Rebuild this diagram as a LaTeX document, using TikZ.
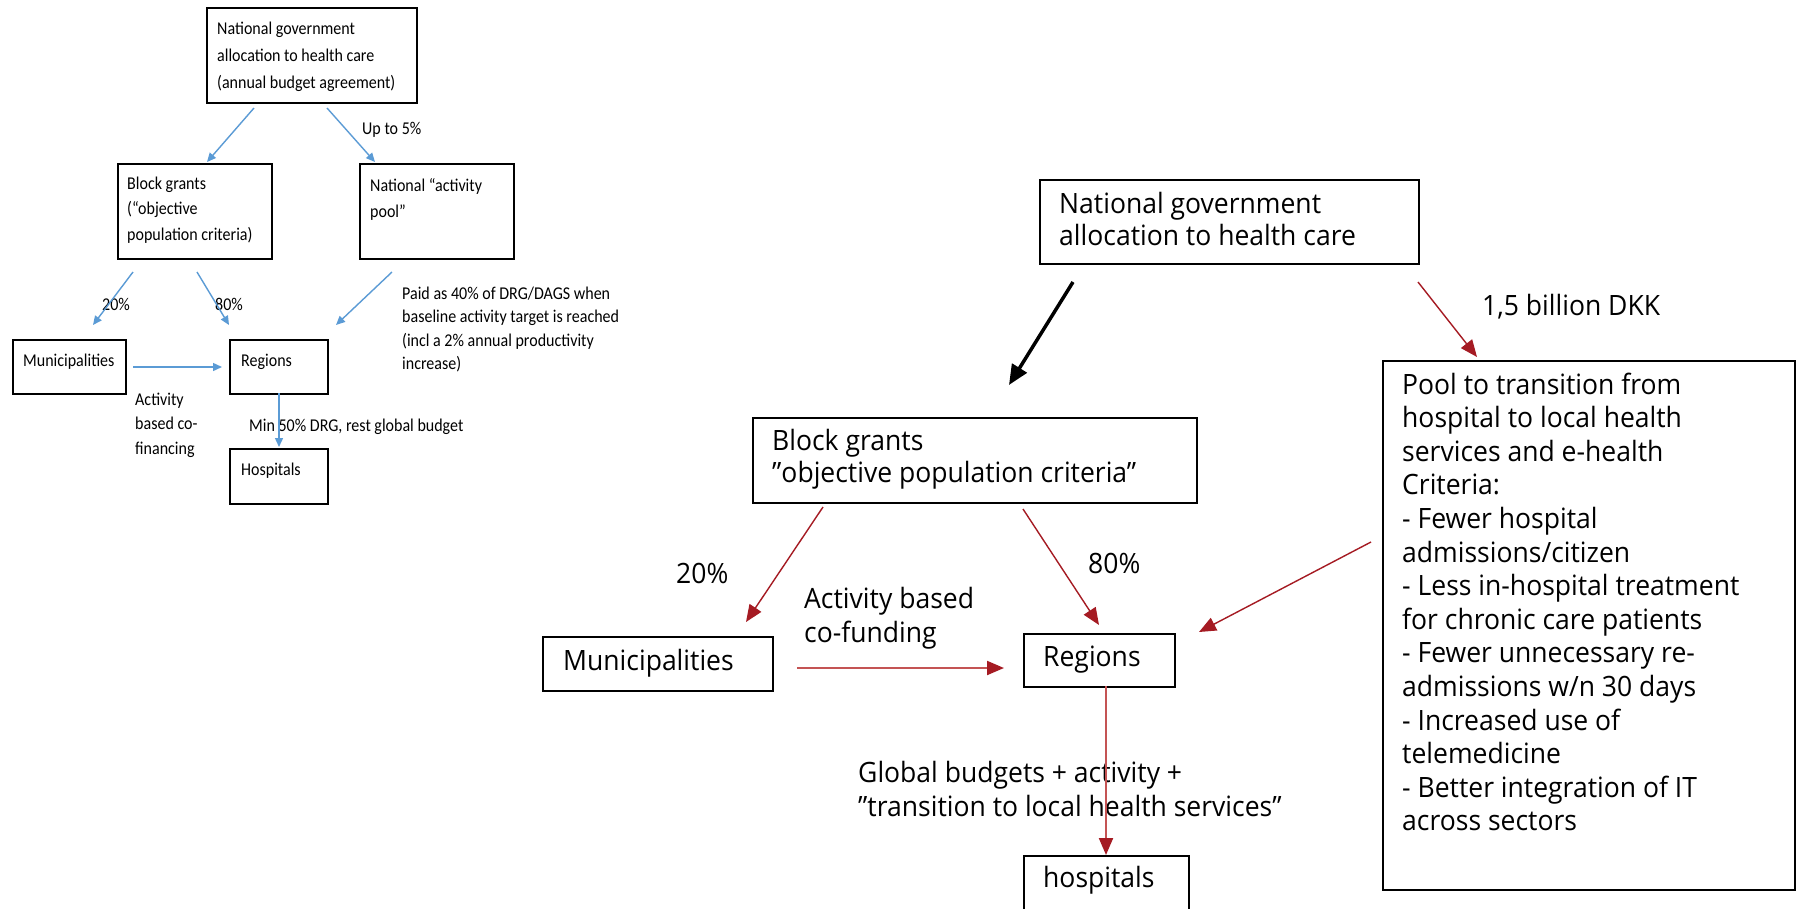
\documentclass[tikz,border=0pt]{standalone}
\usepackage{fontspec}
\usetikzlibrary{arrows.meta}
\newfontfamily\rfont[FakeStretch=0.947]{Open Sans}
\newfontfamily\lfont[FakeStretch=0.89]{Carlito}
\definecolor{arrred}{RGB}{165,27,35}
\definecolor{lightred}{RGB}{196,84,84}
\definecolor{arrblue}{RGB}{91,155,213}
\newcommand\lines[1]{\begin{tabular}[t]{@{}l@{}}#1\end{tabular}}
\tikzset{
  boxL/.style={draw=black, line width=1.6pt, inner sep=0pt, anchor=north west},
  boxR/.style={draw=black, line width=2pt, inner sep=0pt, anchor=north west},
  txtL/.style={anchor=base west, inner sep=0pt, font=\lfont\fontsize{18}{27}\selectfont},
  txtR/.style={anchor=base west, inner sep=0pt, font=\rfont\fontsize{28}{33.6}\selectfont},
  blueArr/.style={draw=arrblue, line width=1.4pt, -{Triangle[length=9pt,width=8pt]}},
  redArr/.style={draw=arrred, line width=1.4pt, -{Triangle[length=17pt,width=14pt]}},
  redArrLight/.style={draw=lightred, line width=2pt, -{Triangle[length=17pt,width=14pt,color=arrred]}},
  blackArr/.style={draw=black, line width=3.5pt, -{Triangle[length=20pt,width=17pt]}}
}
\begin{document}
\begin{tikzpicture}[x=1pt, y=-1pt]
\clip (0,0) rectangle (1797,908);
\fill[white] (0,0) rectangle (1797,908);

% ---------------- left diagram ----------------
\node[boxL, minimum width=210pt, minimum height=95pt] (topL) at (206,7) {};
\node[boxL, minimum width=154pt, minimum height=95pt] (blockL) at (117,163) {};
\node[boxL, minimum width=154pt, minimum height=95pt] (poolL) at (359,163) {};
\node[boxL, minimum width=113pt, minimum height=54pt] (munL) at (12,339) {};
\node[boxL, minimum width=98pt, minimum height=54pt] (regL) at (229,339) {};
\node[boxL, minimum width=98pt, minimum height=55pt] (hospL) at (229,448) {};

\node[txtL] (topLt) at (217,34) {\lines{National government\\allocation to health care\\(annual budget agreement)}};
\node[txtL, font=\lfont\fontsize{18}{25.5}\selectfont] (blockLt) at (127,189) {\lines{Block grants\\(“objective\\population criteria)}};
\node[txtL, font=\lfont\fontsize{18}{26}\selectfont] (poolLt) at (370,191) {\lines{National “activity\\pool”}};
\node[txtL] (munLt) at (23,366) {Municipalities};
\node[txtL] (regLt) at (241,366) {Regions};
\node[txtL] (hospLt) at (241,475) {Hospitals};

\node[txtL] (upto) at (362,134) {Up to 5\%};
\node[txtL] (p20L) at (102,310) {20\%};
\node[txtL] (p80L) at (215,310) {80\%};
\node[txtL, font=\lfont\fontsize{18}{23.5}\selectfont] (paid) at (402,299) {\lines{Paid as 40\% of DRG/DAGS when\\baseline activity target is reached\\(incl a 2\% annual productivity\\increase)}};
\node[txtL, font=\lfont\fontsize{18}{24.5}\selectfont] (abcf) at (135,405) {\lines{Activity\\based co-\\financing}};
\node[txtL] (min50) at (249,431) {Min 50\% DRG, rest global budget};

\coordinate (l1s) at (254,108); \coordinate (l1e) at (207,162);
\coordinate (l2s) at (327,108); \coordinate (l2e) at (375,162);
\coordinate (l3s) at (133,272); \coordinate (l3e) at (93,325);
\coordinate (l4s) at (197,272); \coordinate (l4e) at (229,325);
\coordinate (l5s) at (392,272); \coordinate (l5e) at (336,325);
\coordinate (l6s) at (133,367); \coordinate (l6e) at (222,367);
\coordinate (l7s) at (279,393); \coordinate (l7e) at (279,447);
\draw[blueArr] (l1s) -- (l1e);
\draw[blueArr] (l2s) -- (l2e);
\draw[blueArr] (l3s) -- (l3e);
\draw[blueArr] (l4s) -- (l4e);
\draw[blueArr] (l5s) -- (l5e);
\draw[blueArr] (l6s) -- (l6e);
\draw[blueArr] (l7s) -- (l7e);

% ---------------- right diagram ----------------
\node[boxR, minimum width=379pt, minimum height=84pt] (natR) at (1039,179) {};
\node[boxR, minimum width=444pt, minimum height=85pt] (blockR) at (752,417) {};
\node[boxR, minimum width=230pt, minimum height=54pt] (munR) at (542,636) {};
\node[boxR, minimum width=151pt, minimum height=53pt] (regR) at (1023,633) {};
\node[boxR, minimum width=165pt, minimum height=80pt] (hospR) at (1023,855) {};
\node[boxR, minimum width=412pt, minimum height=529pt] (poolR) at (1382,360) {};

\node[txtR, font=\rfont\fontsize{28}{32}\selectfont] (natRt) at (1059,213) {\lines{National government\\allocation to health care}};
\node[txtR, font=\rfont\fontsize{28}{32}\selectfont] (blockRt) at (772,450) {\lines{Block grants\\”objective population criteria”}};
\node[txtR] (munRt) at (563,670) {Municipalities};
\node[txtR] (regRt) at (1043,666) {Regions};
\node[txtR] (hospRt) at (1043,887) {hospitals};
\node[txtR] (poolRt) at (1402,394) {\lines{Pool to transition from\\hospital to local health\\services and e-health\\Criteria:\\- Fewer hospital\\admissions/citizen\\- Less in-hospital treatment\\for chronic care patients\\- Fewer unnecessary re-\\admissions w/n 30 days\\- Increased use of\\telemedicine\\- Better integration of IT\\across sectors}};

\node[txtR] (bill) at (1482,315) {1,5 billion DKK};
\node[txtR] (p20R) at (676,583) {20\%};
\node[txtR] (p80R) at (1088,573) {80\%};
\node[txtR, font=\rfont\fontsize{28}{34}\selectfont] (abcfR) at (804,608) {\lines{Activity based\\co-funding}};
\node[txtR, font=\rfont\fontsize{28}{34.5}\selectfont] (glob) at (858,782) {\lines{Global budgets + activity +\\”transition to local health services”}};

\coordinate (r0s) at (1073,282); \coordinate (r0e) at (1009,385);
\coordinate (r1s) at (1418,282); \coordinate (r1e) at (1477,357);
\coordinate (r2s) at (823,507);  \coordinate (r2e) at (746,622);
\coordinate (r3s) at (1023,509); \coordinate (r3e) at (1099,625);
\coordinate (r4s) at (1371,542); \coordinate (r4e) at (1199,632);
\coordinate (r5s) at (797,668);  \coordinate (r5e) at (1004,668);
\coordinate (r6s) at (1106,686); \coordinate (r6e) at (1106,855);
\draw[blackArr] (r0s) -- (r0e);
\draw[redArr] (r1s) -- (r1e);
\draw[redArr] (r2s) -- (r2e);
\draw[redArr] (r3s) -- (r3e);
\draw[redArr] (r4s) -- (r4e);
\draw[redArrLight] (r5s) -- (r5e);
\draw[redArrLight] (r6s) -- (r6e);
\end{tikzpicture}
\end{document}
